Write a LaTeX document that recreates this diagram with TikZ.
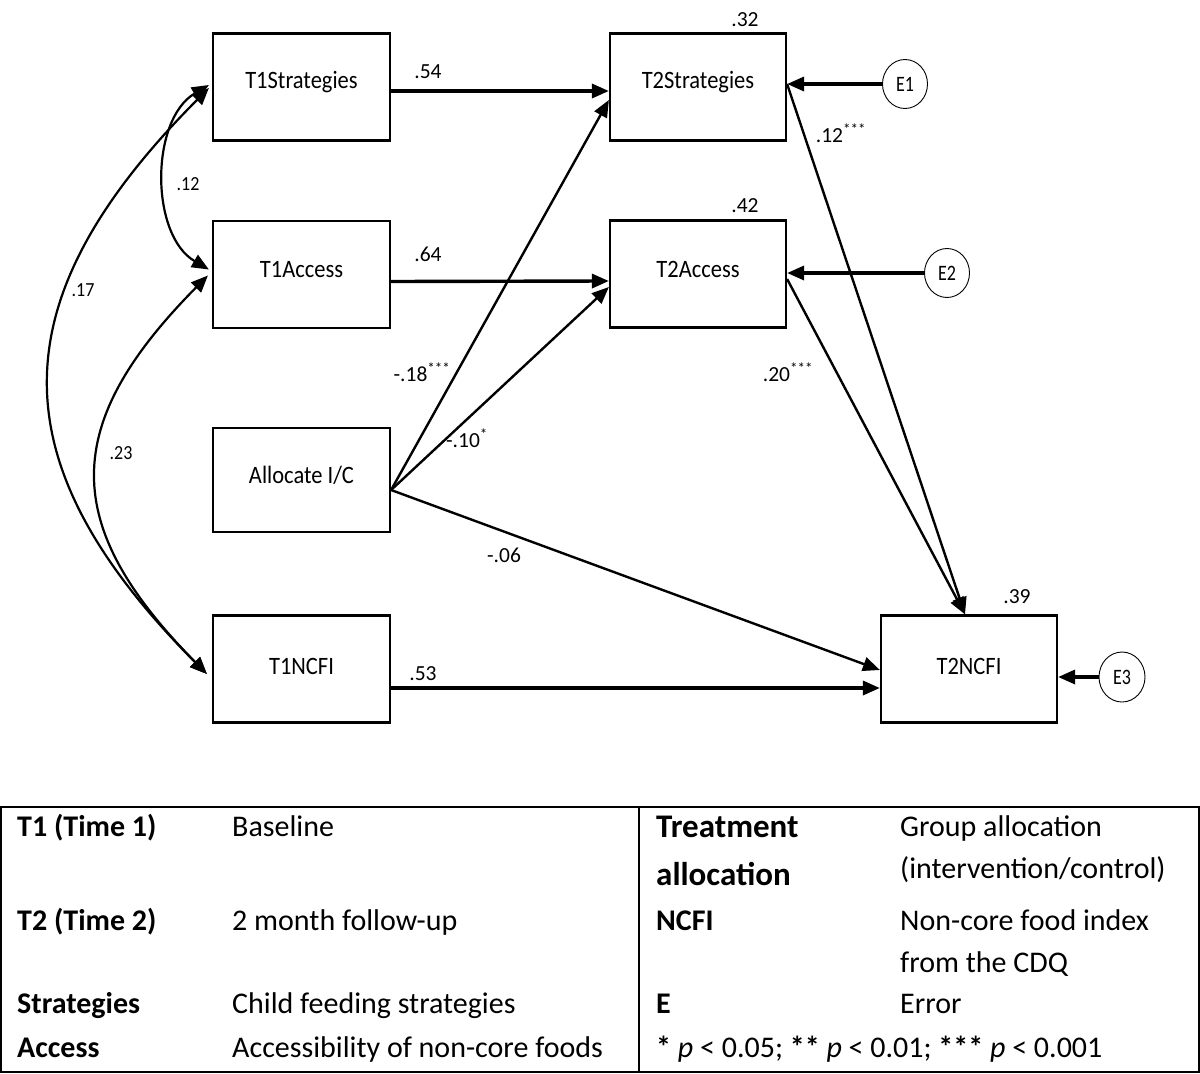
\documentclass[tikz,border=0pt]{standalone}
\usepackage{fontspec}
\setmainfont{Carlito}
\newfontfamily\narrowfont[FakeStretch=0.9]{Carlito}
\newfontfamily\errfont[FakeStretch=0.82]{Carlito}
\usetikzlibrary{arrows.meta,shapes.geometric,calc}
\begin{document}
\begin{tikzpicture}[x=1pt,y=-1pt,
  box/.style={draw,line width=2.2pt,minimum width=177pt,minimum height=107pt,inner sep=0pt},
  boxtext/.style={font=\narrowfont\fontsize{25}{27}\selectfont},
  err/.style={draw,ellipse,line width=0.9pt,minimum width=45pt,minimum height=49pt,inner sep=0pt,font=\errfont\fontsize{22}{24}\selectfont},
  lab/.style={font=\fontsize{21.5}{23}\selectfont,inner sep=0pt},
  slab/.style={font=\narrowfont\fontsize{20}{22}\selectfont,inner sep=0pt},
  tip/.style={-{Triangle[length=17pt,width=14pt]}},
  thickarr/.style={tip,line width=3.4pt},
  diagarr/.style={tip,line width=2.4pt},
  corr/.style={{Triangle[length=17pt,width=14pt]}-{Triangle[length=17pt,width=14pt]},line width=2.2pt},
  tab/.style={font=\fontsize{30}{32}\selectfont,anchor=base west,inner sep=0pt},
  tabb/.style={font=\fontsize{30}{32}\selectfont\bfseries,anchor=base west,inner sep=0pt},
  tabbig/.style={font=\fontsize{33}{35}\selectfont\bfseries,anchor=base west,inner sep=0pt},
  tline/.style={line width=1.8pt}
]
\useasboundingbox (0,0) rectangle (1200,1074);

% boxes
\node[box,label={[boxtext,yshift=5pt]center:T1Strategies}] (T1S) at (301.5,87) {};
\node[box,label={[boxtext,yshift=5pt]center:T1Access}] (T1A) at (301.5,274.5) {};
\node[box,minimum height=104pt,label={[boxtext,yshift=5pt]center:Allocate I/C}] (AL) at (301.5,480) {};
\node[box,label={[boxtext,yshift=3pt]center:T1NCFI}] (T1N) at (301.5,669) {};
\node[box,minimum width=176pt,label={[boxtext,yshift=5pt]center:T2Strategies}] (T2S) at (698,87) {};
\node[box,minimum width=176pt,label={[boxtext,yshift=5pt]center:T2Access}] (T2A) at (698,274) {};
\node[box,minimum width=176pt,label={[boxtext,yshift=3pt]center:T2NCFI}] (T2N) at (969,669) {};

% error terms
\node[err] (E1) at (905,84) {E1};
\node[err] (E2) at (947,273) {E2};
\node[err,minimum width=46pt,minimum height=50pt] (E3) at (1122,677) {E3};

% horizontal paths
\draw[thickarr] ([yshift=-4pt]T1S.east) -- ([yshift=-4pt]T2S.west);
\draw[thickarr] ([yshift=-7pt]T1A.east) -- ([yshift=-7pt]T2A.west);
\draw[thickarr] ([yshift=-19pt]T1N.east) -- ([yshift=-19pt]T2N.west);

% allocation paths
\coordinate (ALo) at ([yshift=-10pt]AL.east);
\draw[diagarr] (ALo) -- ([yshift=-13pt]T2S.west);
\draw[diagarr] (ALo) -- ([yshift=-13pt]T2A.west);
\draw[diagarr] (ALo) -- ([yshift=-1pt]T2N.west);

% T2 to T2NCFI
\coordinate (T2Nin) at ([xshift=-4pt]T2N.north);
\draw[diagarr] ([yshift=3pt]T2S.east) -- (T2Nin);
\draw[diagarr] ([yshift=-5pt]T2A.east) -- (T2Nin);

% error arrows
\draw[thickarr] (E1.west) -- (T2S.east |- E1.west);
\draw[thickarr] (E2.west) -- (T2A.east |- E2.west);
\draw[thickarr] (E3.west) -- (T2N.east |- E3.west);

% correlations
\draw[corr] ([yshift=2pt,xshift=-3pt]T1S.west) .. controls (150,120) and (150,235) .. ([yshift=5pt,xshift=-3pt]T1A.west);
\draw[corr] ([yshift=-1pt,xshift=-3pt]T1S.west) .. controls (-3,301) and (-3,463) .. ([yshift=-5pt,xshift=-5pt]T1N.west);
\draw[corr] ([yshift=-1pt,xshift=-4pt]T1A.west) .. controls (60,425) and (60,525) .. ([yshift=-5pt,xshift=-5pt]T1N.west);

% labels
\node[lab] (l54) at (428,72) {.54};
\node[lab] (l64) at (428,254) {.64};
\node[lab] (l53) at (423,674) {.53};
\node[lab] (l32) at (745,20) {.32};
\node[lab] (l42) at (745,206) {.42};
\node[lab] (l39) at (1017,597) {.39};
\node[lab] (l06) at (504,555) {-.06};
\node[lab] (l18) at (422,372) {-.18\textsuperscript{***}};
\node[lab] (l10) at (467,438) {-.10\textsuperscript{*}};
\node[lab] (l12s) at (841,133) {.12\textsuperscript{***}};
\node[lab] (l20) at (788,372) {.20\textsuperscript{***}};
\node[slab] (l12) at (188,184) {.12};
\node[slab] (l17) at (83,290) {.17};
\node[slab] (l23) at (121,453) {.23};

% legend table
\draw[tline] (0,807) -- (1200,807);
\draw[tline] (0,1072) -- (1200,1072);
\draw[tline] (1,807) -- (1,1072);
\draw[tline] (1199,807) -- (1199,1072);
\draw[tline] (639,807) -- (639,1072);

\node[tabb] (k1) at (17,836) {T1 (Time 1)};
\node[tab] (v1) at (232,836) {Baseline};
\node[tabb] (k2) at (17,930) {T2 (Time 2)};
\node[tab] (v2) at (232,930) {2 month follow-up};
\node[tabb] (k3) at (17,1013) {Strategies};
\node[tab] (v3) at (232,1013) {Child feeding strategies};
\node[tabb] (k4) at (17,1057) {Access};
\node[tab] (v4) at (232,1057) {Accessibility of non-core foods};

\node[tabbig] (k5) at (656,837) {Treatment};
\node[tabbig] (k5b) at (656,885) {allocation};
\node[tab] (v5) at (900,836) {Group allocation};
\node[tab] (v5b) at (900,878) {(intervention/control)};
\node[tabb] (k6) at (656,930) {NCFI};
\node[tab] (v6) at (900,930) {Non-core food index};
\node[tab] (v6b) at (900,972) {from the CDQ};
\node[tabb] (k7) at (656,1013) {E};
\node[tab] (v7) at (900,1013) {Error};
\node[tab] (k8) at (656,1057) {\textbf{*} \textit{p} < 0.05; \textbf{**} \textit{p} < 0.01; \textbf{***} \textit{p} < 0.001};
\end{tikzpicture}
\end{document}
